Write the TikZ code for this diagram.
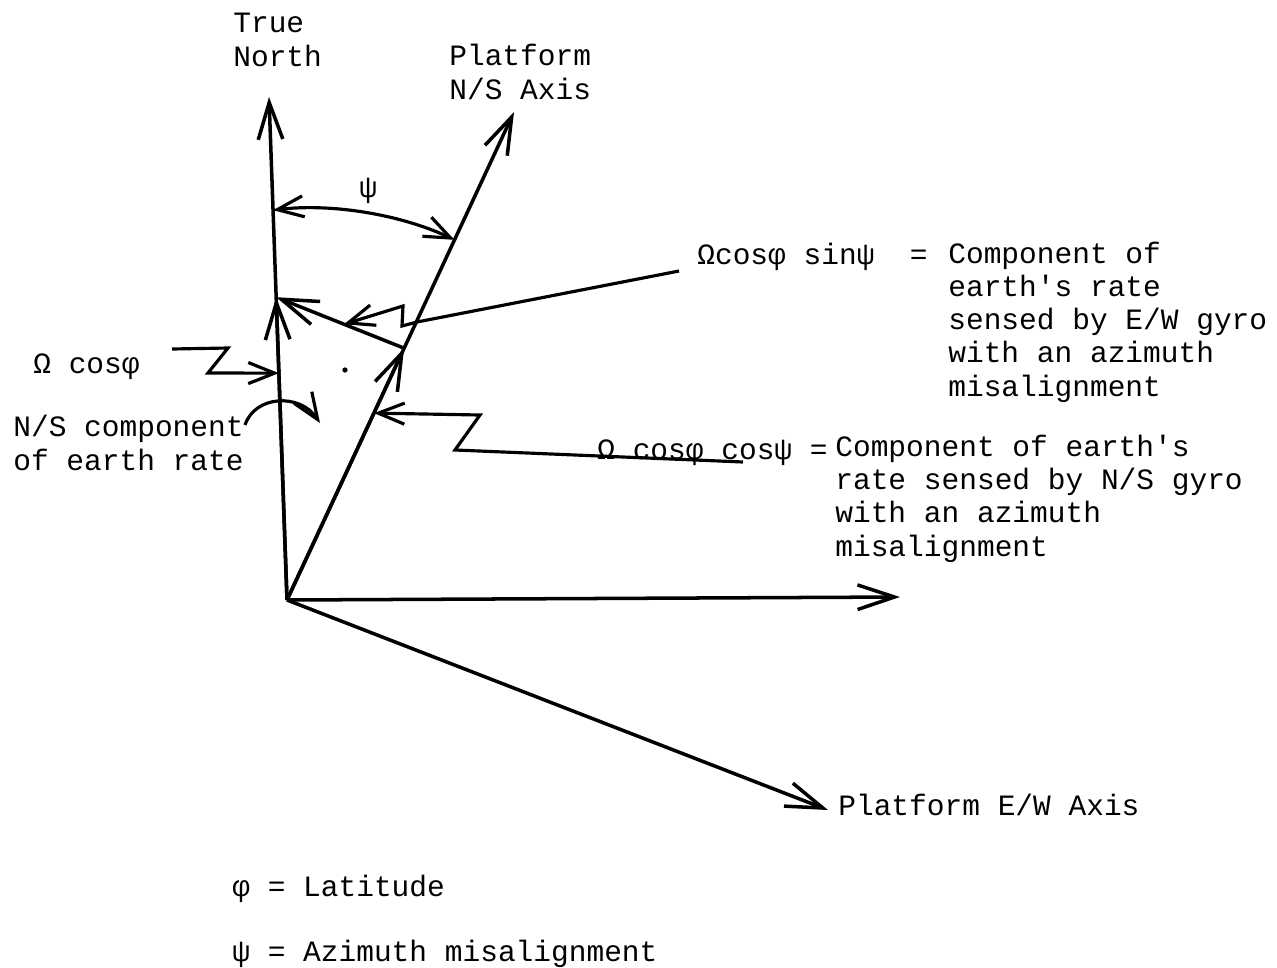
\documentclass[tikz,border=0pt]{standalone}
\usepackage{fontspec}
\setmonofont{Liberation Mono}
\usetikzlibrary{arrows.meta,positioning,calc}

\begin{document}
\begin{tikzpicture}[x=0.02cm,y=-0.02cm]
\tikzset{vec/.style={line width=2pt,-{Straight Barb[length=21pt,width=14pt]}}}
\tikzset{lead/.style={line width=1.8pt,-{Straight Barb[length=15pt,width=12pt]}}}
\tikzset{both/.style={line width=1.8pt,{Straight Barb[length=15pt,width=12pt]}-{Straight Barb[length=15pt,width=12pt]}}}
\tikzset{lbl/.style={font=\ttfamily\fontsize{16.8}{18.8}\selectfont,inner sep=0pt,anchor=base west,align=left}}
\useasboundingbox (0,0) rectangle (1277,967);
% axes
\coordinate (O) at (287,600);
\coordinate (TN) at (269,97);
\coordinate (PN) at (514,112);
\coordinate (EW) at (900,597);
\coordinate (PEW) at (828,810);
\draw[vec] (O) -- (TN);
\draw[vec] (O) -- (PN);
\draw[vec] (O) -- (EW);
\draw[vec] (O) -- (PEW);
% earth rate triangle
\coordinate (P) at ($(O)!0.602!(TN)$);
\coordinate (Q) at ($(O)!0.516!(PN)$);
\draw[vec] (O) -- (P);
\draw[vec] (O) -- (Q);
\draw[vec] (Q) -- (P);
\fill (345,370) circle (1.5pt);
% psi angle
\coordinate (psiL) at ($(O)!0.775!(TN)$);
\coordinate (psiR) at ($(O)!0.738!(PN)$);
\draw[both] (psiR) .. controls (400,214) and (330,203) .. (psiL);
% labels (base = last line)
\node[lbl] (tn) at (233,66) {True\\North};
\node[lbl] (pns) at (449,99) {Platform\\N/S Axis};
\node[lbl] (psi) at (359,197) {ψ};
\node[lbl] (eqew) at (697,264) {Ωcosφ sinψ~~=};
\node[lbl] (dew) at (948,396) {Component of\\earth's rate\\sensed by E/W gyro\\with an azimuth\\misalignment};
\node[lbl] (eqom) at (33,373) {Ω cosφ};
\node[lbl] (nsc) at (13,470) {N/S component\\of earth rate};
\node[lbl] (eqns) at (597,459) {Ω cosφ cosψ =};
\node[lbl] (dns) at (835,556) {Component of earth's\\rate sensed by N/S gyro\\with an azimuth\\misalignment};
\node[lbl] (pew) at (838,815) {Platform E/W Axis};
\node[lbl] (lat) at (232,896) {φ = Latitude};
\node[lbl] (azm) at (232,961) {ψ = Azimuth misalignment};
% leaders
\coordinate (omS) at (172,349);
\coordinate (omT) at ($(O)!0.451!(TN)$);
\draw[lead] (omS) -- (228,348) -- (208,373) -- (omT);
\coordinate (ewS) at (679,271);
\coordinate (ewT) at ($(Q)!0.47!(P)$);
\draw[lead] (ewS) -- (417,322) -- (402,326) -- (403,306) -- (ewT);
\coordinate (nsS) at (743,462);
\coordinate (nsT) at ($(O)!0.383!(PN)$);
\draw[lead] (nsS) -- (455,450) -- (480,415) -- (nsT);
\coordinate (cvS) at (245,425);
\coordinate (cvT) at (320,423);
\draw[lead] (cvS) .. controls (255,395) and (300,393) .. (cvT);
\end{tikzpicture}
\end{document}
